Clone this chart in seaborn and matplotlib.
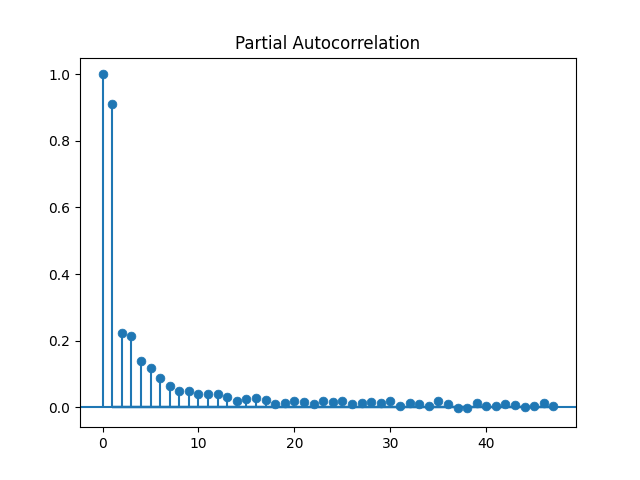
import numpy as np
import matplotlib
matplotlib.use("Agg")
import matplotlib.pyplot as plt
import seaborn as sns

lags = list(range(48))
pacf_vals = [1.0, 0.91, 0.222, 0.213, 0.138, 0.117, 0.087, 0.063, 0.048, 0.048,
             0.039, 0.039, 0.039, 0.03, 0.018, 0.024, 0.027, 0.021, 0.009, 0.012,
             0.018, 0.015, 0.009, 0.018, 0.015, 0.018, 0.009, 0.012, 0.015, 0.012,
             0.018, 0.003, 0.012, 0.009, 0.003, 0.018, 0.009, -0.003, -0.003, 0.012,
             0.003, 0.003, 0.009, 0.006, 0.0, 0.003, 0.012, 0.003]
conf = 0.006  # approximate half-width of the confidence band

fig, ax = plt.subplots(figsize=(6.4, 4.8), dpi=100)
ax.vlines(lags, 0, pacf_vals, color="C0")
sns.scatterplot(x=lags, y=pacf_vals, ax=ax, color="C0", s=40, edgecolor=None, zorder=3)
ax.axhline(0, color="C0")
band_x = np.array(lags[1:], dtype=float)
ax.fill_between(band_x, -conf, conf, color="C0", alpha=0.25, linewidth=0)
ax.set_xlim(-2.35, 49.35)
ax.set_ylim(-0.06, 1.05)
ax.set_title("Partial Autocorrelation")
fig.savefig("out.png")
